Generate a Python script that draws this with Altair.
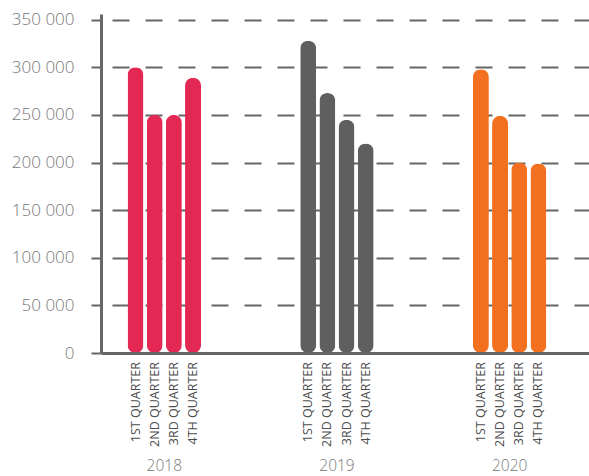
import altair as alt
import pandas as pd

years = ["2018", "2019", "2020"]
quarters = ["1ST QUARTER", "2ND QUARTER", "3RD QUARTER", "4TH QUARTER"]
v2018 = [300000, 250000, 250000, 289000]
v2019 = [328000, 273000, 245000, 220000]
v2020 = [298000, 249000, 200000, 199000]
y_ticks = [0, 50000, 100000, 150000, 200000, 250000, 300000, 350000]
colors = ["#E32853", "#5F5F5F", "#F37021"]

BAR_STEP = 0.111
XMIN, XMAX = -0.3375, 2.4305

rows = []
for i, (yr, vals) in enumerate(zip(years, [v2018, v2019, v2020])):
    for q, (qn, v) in enumerate(zip(quarters, vals)):
        rows.append(dict(year=yr, quarter=qn, value=v, pos=i + (q - 1.5) * BAR_STEP))
df = pd.DataFrame(rows)
year_df = pd.DataFrame({"year": years, "pos": list(range(len(years)))})

x_scale = alt.Scale(domain=[XMIN, XMAX], nice=False, zero=False)
y_scale = alt.Scale(domain=[0, 356000], nice=False)

bars = alt.Chart(df).mark_bar(width=16, cornerRadius=8).encode(
    x=alt.X("pos:Q", scale=x_scale,
            axis=alt.Axis(labels=False, ticks=False, grid=False, title=None,
                          domainColor="#666666", domainWidth=3, zindex=1)),
    y=alt.Y("value:Q", scale=y_scale,
            axis=alt.Axis(values=y_ticks, title=None,
                          labelExpr="datum.value == 0 ? '0' : floor(datum.value/1000) + ' 000'",
                          gridDash=[17, 16], gridDashOffset=22, gridColor="#666666", gridWidth=2,
                          domainColor="#666666", domainWidth=3,
                          tickColor="#666666", tickWidth=2, tickSize=10,
                          labelFontSize=17, labelFont="Open Sans", labelFontWeight=300,
                          labelColor="#777777", labelPadding=17)),
    color=alt.Color("year:N", scale=alt.Scale(domain=years, range=colors), legend=None),
)

qlabels = alt.Chart(df).mark_text(
    angle=270, align="right", baseline="middle", fontSize=12.5,
    font="Open Sans", color="#4d4d4d"
).encode(
    x=alt.X("pos:Q", scale=x_scale),
    y=alt.value(348),
    text="quarter:N",
)

ylabels = alt.Chart(year_df).mark_text(
    align="center", baseline="middle", fontSize=15.5,
    font="Open Sans", fontWeight=300, color="#777777"
).encode(
    x=alt.X("pos:Q", scale=x_scale),
    y=alt.value(452),
    text="year:N",
)

chart = alt.layer(bars, qlabels, ylabels).properties(
    width=488, height=339,
    padding={"left": 101, "top": 14, "right": 0, "bottom": 123},
    autosize=alt.AutoSizeParams(type="none"),
).configure_view(stroke=None)

chart.save("out.html", embed_options={"renderer": "svg", "actions": False})
